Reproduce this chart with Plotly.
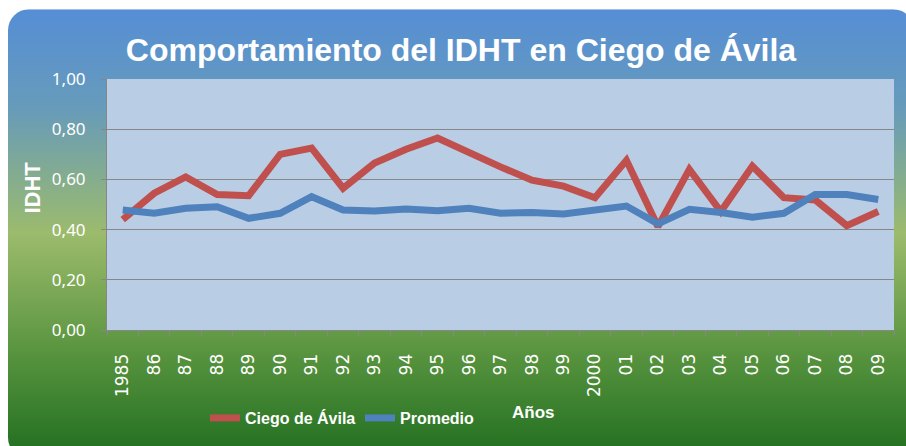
import base64
import plotly.graph_objects as go

years = ["1985", "86", "87", "88", "89", "90", "91", "92", "93", "94", "95", "96",
         "97", "98", "99", "2000", "01", "02", "03", "04", "05", "06", "07", "08", "09"]
ciego = [0.44, 0.545, 0.61, 0.54, 0.535, 0.70, 0.725, 0.565, 0.665, 0.72, 0.765, 0.705,
         0.65, 0.597, 0.573, 0.527, 0.676, 0.412, 0.64, 0.472, 0.653, 0.527, 0.518, 0.416, 0.472]
promedio = [0.478, 0.465, 0.485, 0.491, 0.445, 0.465, 0.531, 0.478, 0.474, 0.482, 0.475, 0.485,
            0.465, 0.468, 0.462, 0.481, 0.494, 0.423, 0.481, 0.468, 0.449, 0.465, 0.54, 0.54, 0.52]
y_ticks = [0, 0.2, 0.4, 0.6, 0.8, 1.0]

W, H = 906, 446
L, R, T, B = 107, 12, 79, 115
PW, PH = W - L - R, H - T - B

def px_x(px):
    return (px - L) / PW

def px_y(py):
    return (H - B - py) / PH

svg = """<svg xmlns='http://www.w3.org/2000/svg' width='906' height='451' viewBox='0 0 906 451' preserveAspectRatio='none'>
<defs><linearGradient id='g' x1='0' y1='0' x2='0' y2='1'>
<stop offset='0' stop-color='#558ed6'/>
<stop offset='0.22' stop-color='#679bba'/>
<stop offset='0.5' stop-color='#9cbb6c'/>
<stop offset='0.75' stop-color='#5c9641'/>
<stop offset='1' stop-color='#1f6e1f'/>
</linearGradient></defs>
<rect x='0' y='0' width='906' height='451' rx='21' ry='21' fill='url(#g)'/>
</svg>"""
src = "data:image/svg+xml;base64," + base64.b64encode(svg.encode()).decode()

fig = go.Figure()
fig.add_trace(go.Scatter(x=years, y=ciego, mode="lines", name="Ciego de Ávila",
                         line=dict(color="#c0504d", width=7)))
fig.add_trace(go.Scatter(x=years, y=promedio, mode="lines", name="Promedio",
                         line=dict(color="#4f81bd", width=7)))

fig.add_layout_image(dict(source=src, xref="paper", yref="paper",
                          x=px_x(8), y=px_y(9), sizex=906 / PW, sizey=451 / PH,
                          xanchor="left", yanchor="top", sizing="stretch", layer="below"))
fig.add_shape(type="rect", xref="paper", yref="paper", x0=0, x1=1, y0=0, y1=1,
              fillcolor="#b9cde5", line=dict(width=0), layer="below")

BOLD = "Liberation Sans, Arial, sans-serif"

fig.update_layout(
    width=W, height=H,
    margin=dict(l=L, r=R, t=T, b=B),
    paper_bgcolor="white",
    plot_bgcolor="rgba(0,0,0,0)",
    separators=",.",
    showlegend=True,
    legend=dict(orientation="h", x=px_x(205), y=px_y(418), xanchor="left", yanchor="middle",
                font=dict(family=BOLD, size=16, color="white", weight="bold"),
                bgcolor="rgba(0,0,0,0)", entrywidth=110, itemwidth=30),
    title=dict(text="Comportamiento del IDHT en Ciego de Ávila", x=px_x(461), xanchor="center",
               y=1 - 50 / H, yanchor="middle", xref="paper",
               font=dict(family=BOLD, size=32, color="white", weight="bold")),
    xaxis=dict(type="category", tickson="boundaries", ticks="outside", ticklen=5,
               tickcolor="#878787", showline=True, linecolor="#878787", linewidth=1,
               showgrid=False, tickangle=-90, ticklabelstandoff=16,
               tickfont=dict(family="DejaVu Sans", size=17, color="white"),
               range=[-0.5, len(years) - 0.5]),
    yaxis=dict(range=[0, 1], tickvals=y_ticks, tickformat=".2f", ticks="outside", ticklen=5,
               tickcolor="#878787", showline=True, linecolor="#878787", linewidth=1,
               showgrid=True, gridcolor="#878787", gridwidth=1.2, zeroline=False,
               ticklabelstandoff=12,
               tickfont=dict(family="Noto Sans", size=17, color="white")),
)

fig.add_annotation(text="IDHT", xref="paper", yref="paper", x=px_x(33), y=px_y(188),
                   showarrow=False, textangle=-90, xanchor="center", yanchor="middle",
                   font=dict(family=BOLD, size=22, color="white", weight="bold"))
fig.add_annotation(text="Años", xref="paper", yref="paper", x=px_x(533), y=px_y(414),
                   showarrow=False, xanchor="center", yanchor="middle",
                   font=dict(family=BOLD, size=17, color="white", weight="bold"))

fig.write_html("out.html", config={"displayModeBar": False},
               post_script="document.body.style.margin='0';document.body.style.overflow='hidden';")
